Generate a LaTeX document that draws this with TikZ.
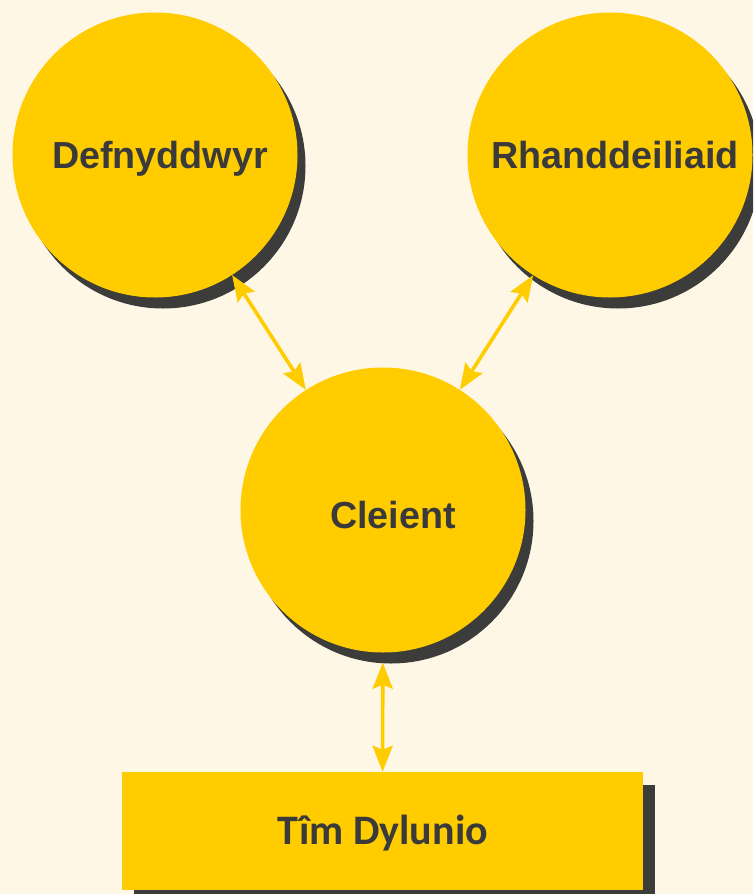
\documentclass[tikz,border=0pt]{standalone}
\usepackage{fontspec}
\setmainfont{Liberation Sans}
\newfontfamily\boxfont{Carlito}
\usetikzlibrary{arrows.meta,shadows}
\definecolor{bgc}{HTML}{FFF7E6}
\definecolor{yel}{HTML}{FFCC00}
\definecolor{shd}{HTML}{3C3C3A}
\definecolor{txt}{HTML}{3A3A3A}
\tikzset{
  circ/.style={circle, fill=yel, minimum size=285pt, inner sep=0pt,
    drop shadow={shadow xshift=8pt, shadow yshift=-11pt, opacity=1, fill=shd}},
  boxnode/.style={rectangle, fill=yel, minimum width=521pt, minimum height=118pt, inner sep=0pt,
    drop shadow={shadow xshift=12pt, shadow yshift=-13pt, opacity=1, fill=shd}},
  lbl/.style={anchor=base, text=txt, inner sep=0pt, font=\fontsize{37.7}{45}\selectfont\bfseries},
  boxlbl/.style={anchor=base, text=txt, inner sep=0pt, font=\fontsize{42}{50}\selectfont\boxfont\bfseries},
  link/.style={draw=yel, line width=3.6pt, {Stealth[length=26pt,width=20pt,inset=4pt]}-{Stealth[length=26pt,width=20pt,inset=4pt]}}
}
\begin{document}
\begin{tikzpicture}[x=1pt,y=-1pt]
\useasboundingbox (0,0) rectangle (753,894);
\clip (0,0) rectangle (753,894);
\fill[bgc] (0,0) rectangle (753,894);
\node[circ] (c1) at (155,155) {};
\node[circ] (c2) at (610,155) {};
\node[circ] (c3) at (383,510) {};
\node[boxnode] (tm) at (382.5,831) {};
\node[lbl] (t1) at (160,168) {Defnyddwyr};
\node[lbl] (t2) at (615,168) {Rhanddeiliaid};
\node[lbl] (t3) at (393,528) {Cleient};
\node[boxlbl] (t4) at (382.5,844) {Tîm Dylunio};
\draw[link] (c1) -- (c3);
\draw[link] (c2) -- (c3);
\draw[link, shorten <=10pt] (c3) -- (tm);
\end{tikzpicture}
\end{document}
